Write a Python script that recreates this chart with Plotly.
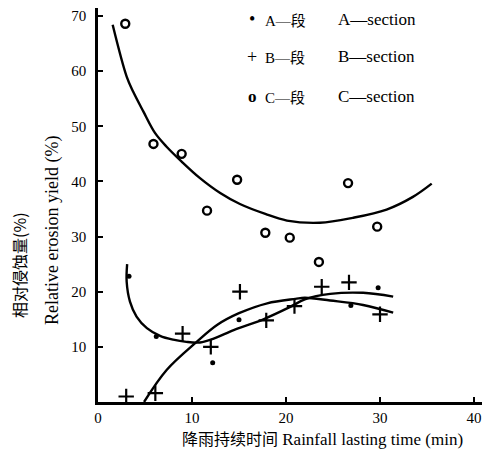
import plotly.graph_objects as go

# ---- data ----
a_x = [3.3, 6.2, 12.2, 15.0, 26.9, 29.8]
a_y = [22.8, 11.9, 7.1, 14.9, 17.5, 20.7]

b_x = [3.0, 6.1, 9.0, 12.0, 15.1, 17.9, 20.9, 23.8, 26.7, 30.0]
b_y = [1.0, 1.6, 12.4, 10.0, 20.0, 14.8, 17.4, 20.9, 21.7, 15.9]

c_x = [2.9, 5.9, 8.9, 11.6, 14.8, 17.8, 20.4, 23.5, 26.6, 29.7]
c_y = [68.6, 46.8, 45.0, 34.7, 40.3, 30.7, 29.8, 25.4, 39.7, 31.8]

# fitted curves
a_fit_x = [3.1, 3.05, 3.4, 4.1, 5.2, 6.6, 8.0, 9.4, 10.85, 12.3, 14.5, 17.6, 20.4, 22.0, 24.7, 28.2, 31.4]
a_fit_y = [25.0, 21.8, 18.2, 15.5, 13.4, 12.0, 11.3, 10.9, 10.8, 11.5, 13.1, 15.0, 17.2, 18.6, 19.6, 19.8, 19.1]

b_fit_x = [4.9, 7.3, 10.5, 12.7, 15.0, 18.0, 21.0, 22.0, 24.7, 28.2, 31.4]
b_fit_y = [0.0, 5.8, 10.9, 14.0, 16.1, 17.9, 18.7, 18.9, 18.4, 17.6, 16.2]

c_fit_x = [1.56, 3.05, 3.76, 4.82, 6.06, 7.3, 8.9, 10.85, 13.0, 15.1, 17.8, 20.1, 23.6, 27.1, 30.7, 33.5, 35.5]
c_fit_y = [68.4, 59.0, 56.2, 52.7, 48.8, 46.3, 43.6, 40.6, 37.9, 35.9, 34.1, 32.9, 32.5, 33.4, 34.9, 37.2, 39.6]

x_ticks = [0, 10, 20, 30, 40]
y_ticks = [10, 20, 30, 40, 50, 60, 70]

legend_rows = [
    ("•", "A—", "段", "A—section"),
    ("+", "B—", "段", "B—section"),
    ("<b>o</b>", "C—", "段", "C—section"),
]

FONT = "Liberation Serif"
CJK_FONT = "Noto Sans CJK SC"
OFF = 8  # page body margin offset
W, H = 488, 442
L, R, T, B = 90, 14, 0, 48

fig = go.Figure()

line_style = dict(color="black", width=2.4, shape="spline", smoothing=1.0)
for fx, fy in [(a_fit_x, a_fit_y), (b_fit_x, b_fit_y), (c_fit_x, c_fit_y)]:
    fig.add_trace(go.Scatter(x=fx, y=fy, mode="lines", line=line_style,
                             showlegend=False, hoverinfo="skip"))

fig.add_trace(go.Scatter(x=a_x, y=a_y, mode="markers", name="A",
                         marker=dict(symbol="circle", size=5, color="black"),
                         showlegend=False))
fig.add_trace(go.Scatter(x=b_x, y=b_y, mode="markers", name="B",
                         marker=dict(symbol="cross-thin", size=11, color="black",
                                     line=dict(color="black", width=2.2)),
                         showlegend=False))
fig.add_trace(go.Scatter(x=c_x, y=c_y, mode="markers", name="C",
                         marker=dict(symbol="circle-open", size=8, color="black",
                                     line=dict(color="black", width=2.4)),
                         showlegend=False))


def px2paper(px, py):
    px -= OFF
    py -= OFF
    return (px - L) / (W - L - R), (H - B - py) / (H - T - B)


annotations = []
row_y = [19, 57, 96]
for (sym, lat, cn, en), py in zip(legend_rows, row_y):
    sx, sy = px2paper(252, py)
    annotations.append(dict(x=sx, y=sy, xref="paper", yref="paper", text=sym,
                            showarrow=False, xanchor="center", yanchor="middle",
                            font=dict(family=FONT, size=18 if "o" not in sym else 17,
                                      color="black")))
    tx, ty = px2paper(263, py)
    annotations.append(dict(x=tx, y=ty, xref="paper", yref="paper",
                            text=lat + f"<span style='font-family:{CJK_FONT}'>{cn}</span>",
                            showarrow=False, xanchor="left", yanchor="middle",
                            font=dict(family=FONT, size=15, color="black")))
    ex, ey = px2paper(336, py)
    annotations.append(dict(x=ex, y=ey, xref="paper", yref="paper", text=en,
                            showarrow=False, xanchor="left", yanchor="middle",
                            font=dict(family=FONT, size=17, color="black")))

# y axis titles (two lines)
cx, cy = px2paper(19, 265)
annotations.append(dict(x=cx, y=cy, xref="paper", yref="paper",
                        text="相对侵蚀量(%)", textangle=-90, showarrow=False,
                        xanchor="center", yanchor="middle",
                        font=dict(family=CJK_FONT, size=16, color="black")))
ex, ey = px2paper(52, 231)
annotations.append(dict(x=ex, y=ey, xref="paper", yref="paper",
                        text="Relative erosion yield (%)", textangle=-90,
                        showarrow=False, xanchor="center", yanchor="middle",
                        font=dict(family=FONT, size=18, color="black")))
# x axis title
xx, xy = px2paper(322, 438)
annotations.append(dict(x=xx, y=xy, xref="paper", yref="paper",
                        text=f"<span style='font-family:{CJK_FONT};font-size:16px'>降雨持续时间</span> Rainfall lasting time (min)",
                        showarrow=False, xanchor="center", yanchor="middle",
                        font=dict(family=FONT, size=17, color="black")))

fig.update_layout(
    width=W, height=H,
    margin=dict(l=L, r=R, t=T, b=B),
    paper_bgcolor="white", plot_bgcolor="white",
    font=dict(family=FONT, size=15, color="black"),
    annotations=annotations,
    xaxis=dict(range=[0, 40.85], tickvals=x_ticks, ticktext=[str(v) for v in x_ticks],
               showgrid=False, zeroline=False, showline=True, linecolor="black",
               linewidth=2.5, ticks="inside", ticklen=5, tickwidth=1.5,
               tickcolor="black", tickfont=dict(family=FONT, size=15)),
    yaxis=dict(range=[0, 71.45], tickvals=y_ticks, ticktext=[str(v) for v in y_ticks],
               showgrid=False, zeroline=False, showline=True, linecolor="black",
               linewidth=2.5, ticks="inside", ticklen=5, tickwidth=1.5,
               tickcolor="black", tickfont=dict(family=FONT, size=15),
               ticklabelstandoff=6),
)

fig.write_html("out.html")
